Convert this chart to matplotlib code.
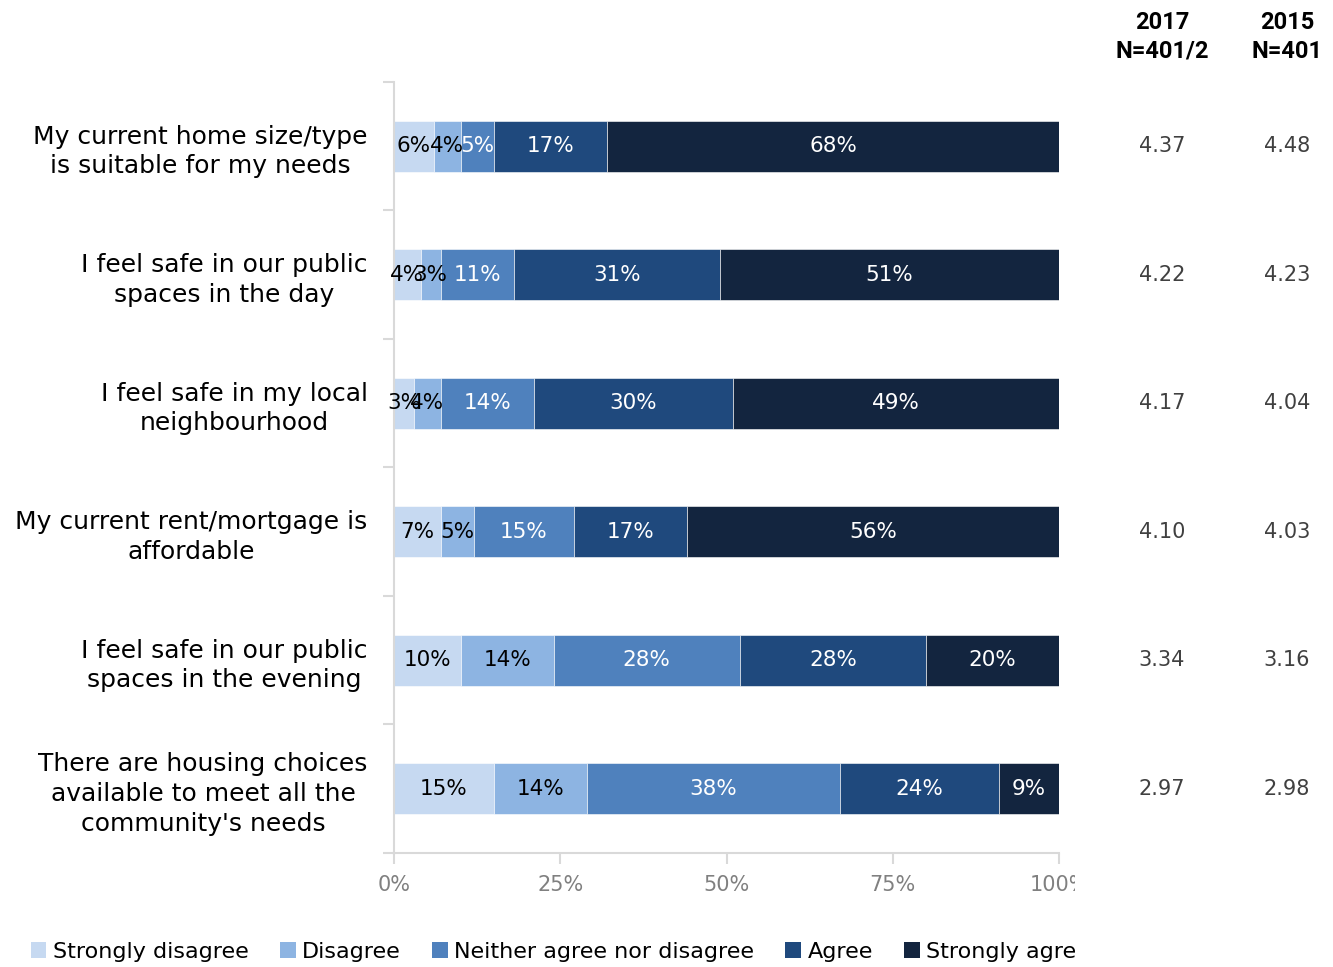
import numpy as np
import matplotlib
matplotlib.use("Agg")
import matplotlib.pyplot as plt
from matplotlib.patches import Patch
from matplotlib.transforms import Bbox, blended_transform_factory

plt.rcParams['font.family'] = ['DejaVu Sans']

# survey statements, top to bottom
statements = [
    "My current home size/type\nis suitable for my needs",
    "I feel safe in our public\nspaces in the day",
    "I feel safe in my local\nneighbourhood",
    "My current rent/mortgage is\naffordable",
    "I feel safe in our public\nspaces in the evening",
    "There are housing choices\navailable to meet all the\ncommunity's needs",
]

responses = ["Strongly disagree", "Disagree", "Neither agree nor disagree",
             "Agree", "Strongly agree"]

# percentage of answers per statement
strongly_disagree = [6, 4, 3, 7, 10, 15]
disagree = [4, 3, 4, 5, 14, 14]
neither = [5, 11, 14, 15, 28, 38]
agree = [17, 31, 30, 17, 28, 24]
strongly_agree = [68, 51, 49, 56, 20, 9]

# mean scores
mean_2017 = ["4.37", "4.22", "4.17", "4.10", "3.34", "2.97"]
mean_2015 = ["4.48", "4.23", "4.04", "4.03", "3.16", "2.98"]

colours = ['#C6D9F1', '#8DB4E2', '#4F81BD', '#1F497D', '#13253F']
text_colours = ['black', 'black', 'white', 'white', 'white']

fig = plt.figure(figsize=(13.33, 9.67), dpi=100)
ax = fig.add_axes([0.2956, 0.1179, 0.4989, 0.7973])

series = [strongly_disagree, disagree, neither, agree, strongly_agree]
n = len(statements)
ypos = np.arange(n)
left = np.zeros(n)
for vals, col, tcol in zip(series, colours, text_colours):
    frac = np.array(vals) / 100.0
    ax.barh(ypos, frac, left=left, height=0.4, color=col, edgecolor='white', linewidth=0.4)
    for y, l, f, v in zip(ypos, left, frac, vals):
        ax.text(l + f / 2, y, '%d%%' % v, ha='center', va='center',
                color=tcol, fontsize=15.5)
    left = left + frac

ax.set_xlim(0, 1)
ax.set_ylim(n - 0.5, -0.5)

ax.set_yticks(ypos)
ax.set_yticklabels(statements, fontsize=18, multialignment='center', linespacing=1.3)
ax.set_yticks(np.arange(n + 1) - 0.5, minor=True)
ax.tick_params(axis='y', which='major', length=0, pad=19)
ax.tick_params(axis='y', which='minor', length=8, color='#D9D9D9', width=1.5)

ax.set_xticks([0, 0.25, 0.5, 0.75, 1.0])
ax.set_xticklabels(['0%', '25%', '50%', '75%', '100%'])
ax.tick_params(axis='x', length=8, color='#D9D9D9', width=1.5,
               labelcolor='#808080', labelsize=15, pad=8)

for side in ['top', 'right']:
    ax.spines[side].set_visible(False)
for side in ['left', 'bottom']:
    ax.spines[side].set_color('#D9D9D9')
    ax.spines[side].set_linewidth(1.5)

# everything past the plot frame is cut off
clip = Bbox([[0, 0], [1075, 967]])
for lab in ax.get_xticklabels():
    lab.set_clip_on(True)
    lab.set_clip_box(clip)

# mean score columns
tr = blended_transform_factory(fig.transFigure, ax.transData)
for y, a, b in zip(ypos, mean_2017, mean_2015):
    ax.text(1162 / 1333, y, a, transform=tr, ha='center', va='center',
            fontsize=15, color='#404040')
    ax.text(1287 / 1333, y, b, transform=tr, ha='center', va='center',
            fontsize=15, color='#404040')

fig.text(1162 / 1333, 1 - 37 / 967, "2017\nN=401/2", ha='center', va='center',
         fontsize=17, fontweight='bold', family='Roboto', linespacing=1.3)
fig.text(1287 / 1333, 1 - 37 / 967, "2015\nN=401", ha='center', va='center',
         fontsize=17, fontweight='bold', family='Roboto', linespacing=1.3)

handles = [Patch(facecolor=c, label=r) for c, r in zip(colours, responses)]
leg = fig.legend(handles=handles, loc='center left', bbox_to_anchor=(22 / 1333, 1 - 952 / 967),
                 ncol=5, frameon=False, fontsize=16, handlelength=0.7, handleheight=0.7,
                 handletextpad=0.3, columnspacing=1.4, borderaxespad=0)
for t in leg.get_texts():
    t.set_clip_on(True)
    t.set_clip_box(clip)

fig.savefig('out.png', dpi=100)
